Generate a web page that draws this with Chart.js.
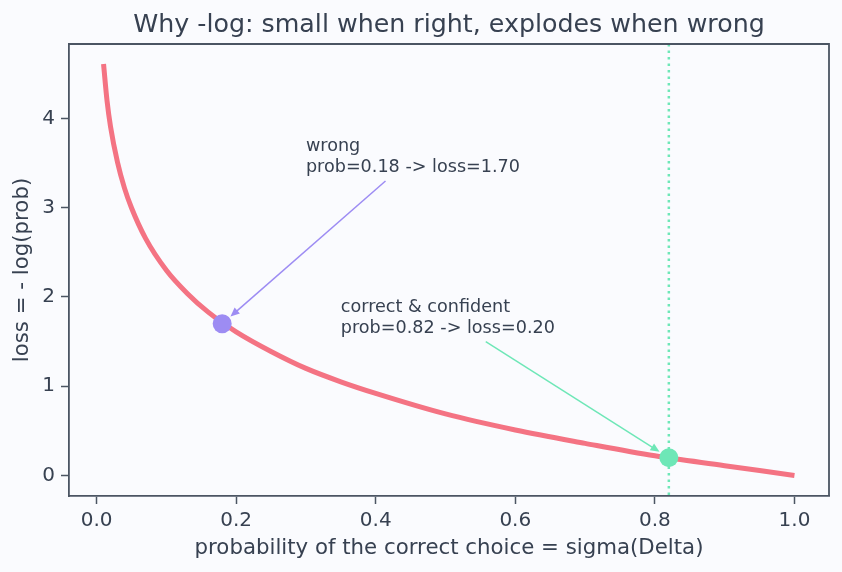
<!DOCTYPE html>
<html>
<head>
<meta charset="utf-8">
<script src="https://cdn.jsdelivr.net/npm/chart.js@4.4.1/dist/chart.umd.min.js"></script>
<style>
  html, body { margin: 0; background: #fafbfe; }
</style>
</head>
<body>
<canvas id="lossChart" width="842" height="572"></canvas>
<script>
// values
const probs = [0.01, 0.015, 0.02, 0.03, 0.04, 0.05, 0.07, 0.10, 0.13, 0.16, 0.20, 0.25, 0.30, 0.35, 0.40, 0.50, 0.60, 0.70, 0.80, 0.90, 1.00];
const losses = [4.61, 4.20, 3.91, 3.51, 3.22, 3.00, 2.66, 2.30, 2.04, 1.83, 1.61, 1.39, 1.20, 1.05, 0.92, 0.69, 0.51, 0.36, 0.22, 0.11, 0.00];

// the two highlighted cases
const caseProbs = [0.18, 0.82];
const caseLosses = [1.70, 0.20];
const caseLabels = [
    ['wrong', 'prob=0.18 -> loss=1.70'],
    ['correct & confident', 'prob=0.82 -> loss=0.20']
];
const noteX = [0.30, 0.35];
const noteY = [3.4, 1.6];
const markerProb = 0.82;

const xTicks = [0.0, 0.2, 0.4, 0.6, 0.8, 1.0];
const yTicks = [0, 1, 2, 3, 4];

const INK = '#374151';
const FRAME = '#4b5563';
const CURVE = '#f47383';
const caseColors = ['#9d8cf3', '#6ee7b7'];
const FONT = 'DejaVu Sans';

Chart.defaults.font.family = FONT;

// dotted marker line, frame, title and the arrows with their notes
const decor = {
    id: 'decor',
    beforeDatasetsDraw(chart) {
        const c = chart.ctx;
        const area = chart.chartArea;
        const px = chart.scales.x.getPixelForValue(markerProb);
        c.save();
        c.strokeStyle = caseColors[1];
        c.lineWidth = 2.5;
        c.setLineDash([2.5, 4]);
        c.beginPath();
        c.moveTo(px, area.top);
        c.lineTo(px, area.bottom);
        c.stroke();
        c.restore();
    },
    afterDatasetsDraw(chart) {
        const c = chart.ctx;
        const area = chart.chartArea;
        const xs = chart.scales.x;
        const ys = chart.scales.y;
        c.save();

        // notes + arrows
        c.font = '17.6px "' + FONT + '"';
        const lineH = 21;
        caseLabels.forEach((lines, i) => {
            const tx = xs.getPixelForValue(noteX[i]);
            const ty = ys.getPixelForValue(noteY[i]);
            c.fillStyle = INK;
            c.textAlign = 'left';
            c.textBaseline = 'alphabetic';
            let w = 0;
            lines.forEach((s, k) => {
                c.fillText(s, tx, ty - lineH * (lines.length - 1 - k));
                w = Math.max(w, c.measureText(s).width);
            });
            const pad = 5;
            const left = tx - pad, right = tx + w + pad;
            const top = ty - lineH * (lines.length - 1) - 13 - pad;
            const bottom = ty + 4 + pad;
            const cx = (left + right) / 2, cy = (top + bottom) / 2;
            const px = xs.getPixelForValue(caseProbs[i]);
            const py = ys.getPixelForValue(caseLosses[i]);
            const dx = px - cx, dy = py - cy;
            const t = Math.min((right - cx) / Math.abs(dx), (bottom - cy) / Math.abs(dy));
            const sx = cx + dx * t, sy = cy + dy * t;
            const len = Math.hypot(px - sx, py - sy);
            const ux = (px - sx) / len, uy = (py - sy) / len;
            const ex = px - ux * 11, ey = py - uy * 11;
            c.strokeStyle = caseColors[i];
            c.fillStyle = caseColors[i];
            c.lineWidth = 1.5;
            c.beginPath();
            c.moveTo(sx, sy);
            c.lineTo(ex - ux * 6, ey - uy * 6);
            c.stroke();
            const hl = 9, hw = 4;
            c.beginPath();
            c.moveTo(ex, ey);
            c.lineTo(ex - ux * hl - uy * hw, ey - uy * hl + ux * hw);
            c.lineTo(ex - ux * hl + uy * hw, ey - uy * hl - ux * hw);
            c.closePath();
            c.fill();
        });

        // top and right spines
        c.strokeStyle = FRAME;
        c.lineWidth = 1.8;
        c.beginPath();
        c.moveTo(area.left, area.top);
        c.lineTo(area.right, area.top);
        c.lineTo(area.right, area.bottom);
        c.stroke();

        // title
        c.fillStyle = INK;
        c.font = '25.3px "' + FONT + '"';
        c.textAlign = 'center';
        c.textBaseline = 'alphabetic';
        c.fillText('Why -log: small when right, explodes when wrong', (area.left + area.right) / 2, 32);
        c.restore();
    }
};

const ctx = document.getElementById('lossChart').getContext('2d');
const lossChart = new Chart(ctx, {
    type: 'line',
    data: {
        datasets: [
            {
                data: probs.map((p, i) => ({ x: p, y: losses[i] })),
                borderColor: CURVE,
                borderWidth: 5,
                borderCapStyle: 'butt',
                pointRadius: 0,
                cubicInterpolationMode: 'monotone',
                fill: false,
                order: 2
            },
            {
                type: 'scatter',
                data: [{ x: caseProbs[0], y: caseLosses[0] }],
                backgroundColor: caseColors[0],
                borderWidth: 0,
                pointRadius: 9.5,
                order: 1
            },
            {
                type: 'scatter',
                data: [{ x: caseProbs[1], y: caseLosses[1] }],
                backgroundColor: caseColors[1],
                borderWidth: 0,
                pointRadius: 9.5,
                order: 0
            }
        ]
    },
    options: {
        responsive: false,
        animation: false,
        layout: { padding: { top: 44, right: 13, left: 0, bottom: 0 } },
        plugins: {
            legend: { display: false },
            tooltip: { enabled: false }
        },
        scales: {
            x: {
                type: 'linear',
                min: -0.0395,
                max: 1.0495,
                afterBuildTicks: s => { s.ticks = xTicks.map(v => ({ value: v })); },
                afterFit: s => { s.height = 76; },
                ticks: {
                    callback: v => v.toFixed(1),
                    font: { size: 20 },
                    color: INK,
                    padding: 5,
                    maxRotation: 0,
                    autoSkip: false
                },
                grid: { drawOnChartArea: false, drawTicks: true, tickLength: 8, tickColor: FRAME, tickWidth: 1.5 },
                border: { color: FRAME, width: 1.8 },
                title: {
                    display: true,
                    text: 'probability of the correct choice = sigma(Delta)',
                    font: { size: 21.3 },
                    color: INK,
                    padding: 11
                }
            },
            y: {
                type: 'linear',
                min: -0.23,
                max: 4.835,
                afterBuildTicks: s => { s.ticks = yTicks.map(v => ({ value: v })); },
                afterFit: s => { s.width = 69; },
                ticks: {
                    callback: v => String(v),
                    font: { size: 20 },
                    color: INK,
                    padding: 6,
                    autoSkip: false
                },
                grid: { drawOnChartArea: false, drawTicks: true, tickLength: 8, tickColor: FRAME, tickWidth: 1.5 },
                border: { color: FRAME, width: 1.8 },
                title: {
                    display: true,
                    text: 'loss = - log(prob)',
                    font: { size: 21.3 },
                    color: INK,
                    padding: 10
                }
            }
        }
    },
    plugins: [decor]
});
</script>
</body>
</html>
